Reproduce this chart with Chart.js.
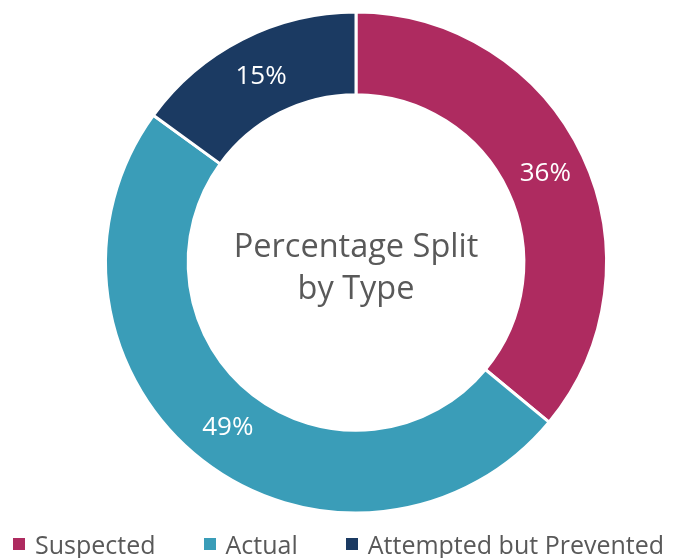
<!DOCTYPE html>
<html>
<head>
<meta charset="utf-8">
<script src="https://cdn.jsdelivr.net/npm/chart.js@4.4.1/dist/chart.umd.min.js"></script>
<style>
  html, body { margin: 0; padding: 0; background: #fff; }
  #wrap { position: relative; width: 673px; height: 558px; }
  #legend {
    position: absolute; left: 13px; top: 528px; height: 32px;
    display: flex; align-items: center; gap: 48px;
    font-family: 'Open Sans', sans-serif; font-size: 25px; color: #595959;
    white-space: nowrap;
  }
  .item { display: flex; align-items: center; }
  .box { width: 12px; height: 12px; margin-right: 10px; }
</style>
</head>
<body>
<div id="wrap">
  <canvas id="chart" width="673" height="558"></canvas>
  <div id="legend"></div>
</div>
<script>
const labels = ['Suspected', 'Actual', 'Attempted but Prevented'];
const values = [36, 49, 15];
const colors = ['#AE2B60', '#3A9DB8', '#1B3A62'];
const centerLines = ['Percentage Split', 'by Type'];

// percentage labels in the middle of each slice
const sliceLabels = {
  id: 'sliceLabels',
  afterDatasetsDraw(chart) {
    const ctx = chart.ctx;
    const meta = chart.getDatasetMeta(0);
    ctx.save();
    ctx.font = '26px "Open Sans"';
    ctx.fillStyle = '#fff';
    ctx.textAlign = 'center';
    ctx.textBaseline = 'middle';
    meta.data.forEach((arc, i) => {
      const p = arc.getProps(['x', 'y', 'startAngle', 'endAngle', 'innerRadius', 'outerRadius'], true);
      const a = (p.startAngle + p.endAngle) / 2;
      const r = p.innerRadius + (p.outerRadius - p.innerRadius) * 0.5;
      ctx.fillText(values[i] + '%', p.x + Math.cos(a) * r, p.y + Math.sin(a) * r);
    });
    ctx.restore();
  }
};

const centerText = {
  id: 'centerText',
  afterDraw(chart) {
    const ctx = chart.ctx;
    const arc = chart.getDatasetMeta(0).data[0];
    ctx.save();
    ctx.font = '32.5px "Open Sans"';
    ctx.fillStyle = '#595959';
    ctx.textAlign = 'center';
    ctx.textBaseline = 'alphabetic';
    ctx.fillText(centerLines[0], arc.x, arc.y - 5.5);
    ctx.fillText(centerLines[1], arc.x, arc.y + 36.5);
    ctx.restore();
  }
};

new Chart(document.getElementById('chart'), {
  type: 'doughnut',
  data: {
    labels: labels,
    datasets: [{
      data: values,
      backgroundColor: colors,
      borderColor: '#fff',
      borderWidth: 3,
    }],
  },
  options: {
    responsive: false,
    animation: false,
    cutout: '67%',
    layout: {
      padding: { left: 104, right: 65, top: 10, bottom: 43 },
    },
    plugins: {
      legend: { display: false },
      tooltip: { enabled: false },
    },
  },
  plugins: [sliceLabels, centerText],
});

// html legend
const legend = document.getElementById('legend');
labels.forEach((l, i) => {
  const item = document.createElement('div');
  item.className = 'item';
  item.innerHTML = '<span class="box" style="background:' + colors[i] + '"></span><span>' + l + '</span>';
  legend.appendChild(item);
});
</script>
</body>
</html>
